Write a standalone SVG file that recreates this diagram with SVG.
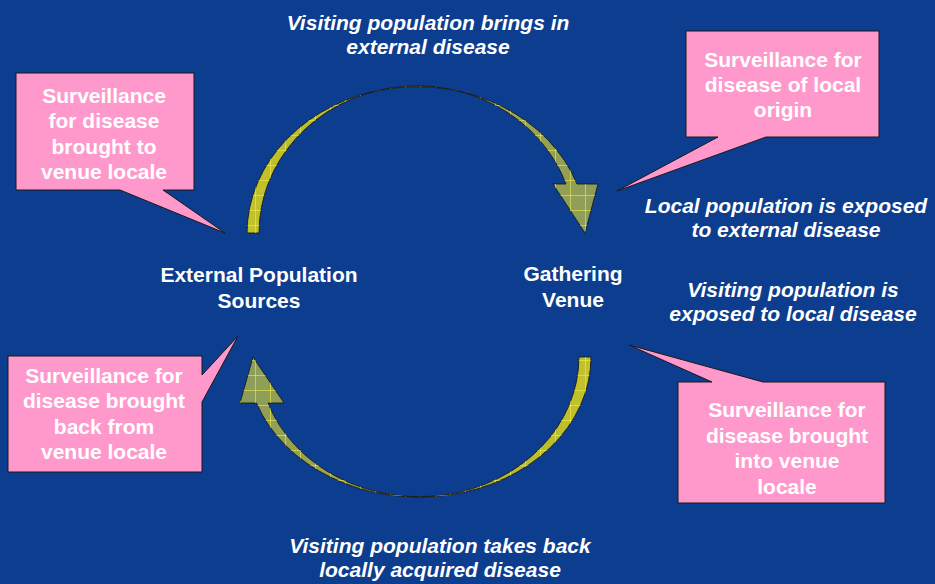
<svg xmlns="http://www.w3.org/2000/svg" width="935" height="584" viewBox="0 0 935 584">
  <style>
    .t { font-family: "Liberation Sans", Arial, sans-serif; font-weight: bold; font-size: 21px; fill: #ffffff; text-anchor: middle; }
    .i { font-style: italic; }
    .call { fill: #ff99cc; stroke: #1a1a1a; stroke-width: 1; stroke-linejoin: miter; }
    .arrow { stroke: #1a1a1a; stroke-width: 0.9; }
  </style>
  <defs>
    <linearGradient id="gTop" x1="247" y1="0" x2="598" y2="0" gradientUnits="userSpaceOnUse">
      <stop offset="0" stop-color="#c2c22a"/>
      <stop offset="0.5" stop-color="#adb03a"/>
      <stop offset="1" stop-color="#8c9c5a"/>
    </linearGradient>
    <linearGradient id="gBot" x1="240" y1="0" x2="591" y2="0" gradientUnits="userSpaceOnUse">
      <stop offset="0" stop-color="#8c9c5a"/>
      <stop offset="0.5" stop-color="#adb03a"/>
      <stop offset="1" stop-color="#c2c22a"/>
    </linearGradient>
    <pattern id="grid" width="15" height="15" patternUnits="userSpaceOnUse">
      <path d="M0 0.5H15M0.5 0V15" stroke="#f2f250" stroke-width="1" opacity="0.55" fill="none"/>
    </pattern>
  </defs>
  <rect width="935" height="584" fill="#0d3d8e"/>

  <g id="connectors">
    <g id="arrow-top">
      <path class="arrow" fill="url(#gTop)" d="M247,233 A170,147 0 0 1 577,184 L598,184 L585,233 L553,184 L566,184 A158,147 0 0 0 259,233 Z"/>
      <path fill="url(#grid)" d="M247,233 A170,147 0 0 1 577,184 L598,184 L585,233 L553,184 L566,184 A158,147 0 0 0 259,233 Z"/>
    </g>
    <g id="arrow-bottom">
      <path class="arrow" fill="url(#gBot)" d="M579,357 L591,357 A172,140 0 0 1 256.5,403 L240,403 L253,357 L284,403 L268,403 A160,140 0 0 0 579,357 Z"/>
      <path fill="url(#grid)" d="M579,357 L591,357 A172,140 0 0 1 256.5,403 L240,403 L253,357 L284,403 L268,403 A160,140 0 0 0 579,357 Z"/>
    </g>
  </g>

  <g id="node-external">
    <text class="t" x="259" y="282">External Population</text>
    <text class="t" x="259" y="308">Sources</text>
  </g>
  <g id="node-venue">
    <text class="t" x="573" y="281">Gathering</text>
    <text class="t" x="573" y="307">Venue</text>
  </g>

  <g id="label-top">
    <text class="t i" x="428" y="30">Visiting population brings in</text>
    <text class="t i" x="428" y="54">external disease</text>
  </g>
  <g id="label-local">
    <text class="t i" x="786" y="213">Local population is exposed</text>
    <text class="t i" x="786" y="237">to external disease</text>
  </g>
  <g id="label-visiting">
    <text class="t i" x="793" y="297">Visiting population is</text>
    <text class="t i" x="793" y="321">exposed to local disease</text>
  </g>
  <g id="label-bottom">
    <text class="t i" x="440" y="553">Visiting population takes back</text>
    <text class="t i" x="440" y="577">locally acquired disease</text>
  </g>

  <g id="callout-brought-to">
    <path class="call" d="M16,73 H194 V190 H163 L225,233 L120,190 H16 Z"/>
    <text class="t" x="104" y="103">Surveillance</text>
    <text class="t" x="104" y="128">for disease</text>
    <text class="t" x="104" y="154">brought to</text>
    <text class="t" x="104" y="179">venue locale</text>
  </g>
  <g id="callout-local-origin">
    <path class="call" d="M686,31 H879 V137 H766 L617,191 L718,137 H686 Z"/>
    <text class="t" x="783" y="67">Surveillance for</text>
    <text class="t" x="783" y="92">disease of local</text>
    <text class="t" x="783" y="117">origin</text>
  </g>
  <g id="callout-brought-back">
    <path class="call" d="M8,356 H202 V375 L238,336 L202,402 V472 H8 Z"/>
    <text class="t" x="104" y="383">Surveillance for</text>
    <text class="t" x="104" y="408">disease brought</text>
    <text class="t" x="104" y="434">back from</text>
    <text class="t" x="104" y="459">venue locale</text>
  </g>
  <g id="callout-brought-into">
    <path class="call" d="M678,382 H712 L629,345 L763,382 H885 V503 H678 Z"/>
    <text class="t" x="787" y="417">Surveillance for</text>
    <text class="t" x="787" y="443">disease brought</text>
    <text class="t" x="787" y="468">into venue</text>
    <text class="t" x="787" y="494">locale</text>
  </g>
</svg>
